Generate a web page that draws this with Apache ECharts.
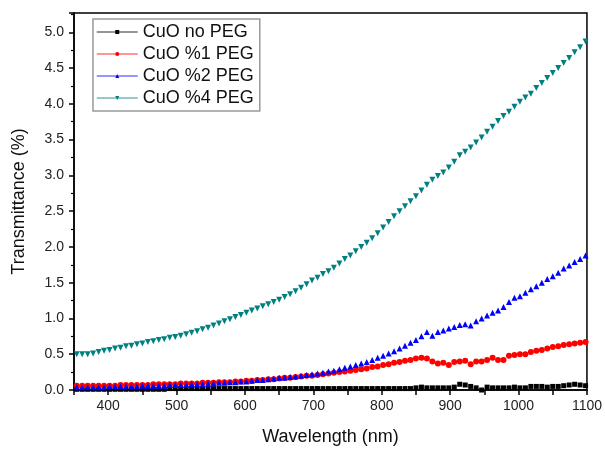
<!DOCTYPE html>
<html>
<head>
<meta charset="utf-8">
<script src="https://cdn.jsdelivr.net/npm/echarts@6/dist/echarts.min.js"></script>
<style>
  html, body { margin: 0; padding: 0; background: #fff; }
  #chart { width: 605px; height: 453px; }
</style>
</head>
<body>
<div id="chart"></div>
<script>
// wavelength (nm)
const wavelengths = [
  354, 362, 370, 378, 386, 394, 402, 410, 418, 426,
  434, 442, 450, 458, 466, 474, 482, 490, 498, 506,
  514, 522, 530, 538, 546, 554, 562, 570, 578, 586,
  594, 602, 610, 618, 626, 634, 642, 650, 658, 666,
  674, 682, 690, 698, 706, 714, 722, 730, 738, 746,
  754, 762, 770, 778, 786, 794, 802, 810, 818, 826,
  834, 842, 850, 858, 866, 874, 882, 890, 898, 906,
  914, 922, 930, 938, 946, 954, 962, 970, 978, 986,
  994, 1002, 1010, 1018, 1026, 1034, 1042, 1050, 1058, 1066,
  1074, 1082, 1090, 1098
]

const noPeg = [
  0.01, 0.01, 0.01, 0.01, 0.01, 0.01, 0.01, 0.01, 0.01, 0.01,
  0.01, 0.01, 0.01, 0.01, 0.01, 0.01, 0.01, 0.02, 0.02, 0.02,
  0.02, 0.02, 0.02, 0.02, 0.02, 0.02, 0.02, 0.02, 0.02, 0.02,
  0.02, 0.02, 0.02, 0.02, 0.02, 0.02, 0.02, 0.02, 0.02, 0.02,
  0.02, 0.02, 0.02, 0.02, 0.02, 0.02, 0.02, 0.02, 0.02, 0.02,
  0.02, 0.02, 0.02, 0.02, 0.02, 0.02, 0.02, 0.02, 0.02, 0.02,
  0.02, 0.02, 0.03, 0.04, 0.03, 0.03, 0.03, 0.03, 0.03, 0.04,
  0.08, 0.07, 0.05, 0.03, 0.00, 0.04, 0.03, 0.03, 0.03, 0.03,
  0.04, 0.03, 0.03, 0.05, 0.05, 0.05, 0.04, 0.05, 0.05, 0.06,
  0.07, 0.08, 0.07, 0.06
]

const peg1 = [
  0.06, 0.06, 0.06, 0.06, 0.06, 0.06, 0.06, 0.06, 0.07, 0.07,
  0.07, 0.07, 0.07, 0.07, 0.08, 0.08, 0.08, 0.08, 0.08, 0.09,
  0.09, 0.09, 0.09, 0.10, 0.10, 0.10, 0.11, 0.11, 0.11, 0.12,
  0.12, 0.13, 0.13, 0.14, 0.14, 0.15, 0.15, 0.16, 0.17, 0.17,
  0.18, 0.19, 0.20, 0.20, 0.21, 0.22, 0.23, 0.24, 0.25, 0.26,
  0.27, 0.28, 0.29, 0.30, 0.32, 0.33, 0.35, 0.36, 0.38, 0.39,
  0.41, 0.42, 0.44, 0.45, 0.44, 0.40, 0.37, 0.38, 0.35, 0.39,
  0.40, 0.41, 0.36, 0.40, 0.40, 0.42, 0.45, 0.42, 0.42, 0.48,
  0.49, 0.50, 0.50, 0.53, 0.55, 0.56, 0.58, 0.60, 0.61, 0.63,
  0.64, 0.65, 0.66, 0.67
]

const peg2 = [
  0.04, 0.04, 0.04, 0.04, 0.04, 0.04, 0.05, 0.05, 0.05, 0.05,
  0.05, 0.05, 0.06, 0.06, 0.06, 0.06, 0.06, 0.07, 0.07, 0.07,
  0.07, 0.08, 0.08, 0.08, 0.09, 0.09, 0.10, 0.10, 0.11, 0.11,
  0.12, 0.12, 0.13, 0.14, 0.14, 0.15, 0.16, 0.17, 0.17, 0.18,
  0.19, 0.20, 0.21, 0.22, 0.23, 0.24, 0.26, 0.27, 0.29, 0.31,
  0.33, 0.35, 0.37, 0.39, 0.42, 0.45, 0.48, 0.51, 0.54, 0.58,
  0.62, 0.66, 0.70, 0.75, 0.81, 0.76, 0.81, 0.83, 0.86, 0.88,
  0.91, 0.92, 0.90, 0.96, 1.00, 1.04, 1.08, 1.11, 1.16, 1.23,
  1.29, 1.31, 1.36, 1.41, 1.45, 1.50, 1.55, 1.59, 1.64, 1.70,
  1.74, 1.79, 1.83, 1.88
]

const peg4 = [
  0.50, 0.50, 0.50, 0.51, 0.53, 0.55, 0.56, 0.58, 0.59, 0.61,
  0.62, 0.64, 0.65, 0.67, 0.68, 0.70, 0.71, 0.73, 0.74, 0.76,
  0.78, 0.80, 0.82, 0.85, 0.87, 0.90, 0.93, 0.96, 0.99, 1.02,
  1.05, 1.08, 1.11, 1.14, 1.17, 1.20, 1.23, 1.26, 1.30, 1.34,
  1.38, 1.43, 1.48, 1.53, 1.57, 1.62, 1.66, 1.71, 1.77, 1.83,
  1.88, 1.94, 2.00, 2.06, 2.12, 2.19, 2.27, 2.35, 2.43, 2.50,
  2.57, 2.64, 2.71, 2.79, 2.87, 2.94, 2.99, 3.04, 3.11, 3.19,
  3.28, 3.33, 3.39, 3.46, 3.53, 3.61, 3.68, 3.76, 3.83, 3.89,
  3.96, 4.03, 4.09, 4.14, 4.22, 4.29, 4.36, 4.43, 4.50, 4.57,
  4.64, 4.72, 4.79, 4.87
]

const seriesNames = ['CuO no PEG', 'CuO %1 PEG', 'CuO %2 PEG', 'CuO %4 PEG']
const seriesColors = ['#000000', '#ff0000', '#0000ff', '#008080']
const seriesSymbols = ['rect', 'circle', 'triangle', 'triangle']
const seriesRotate = [0, 0, 0, 180]
const seriesValues = [noPeg, peg1, peg2, peg4]

const font = 'Arial, "Liberation Sans", sans-serif'

const chart = echarts.init(document.getElementById('chart'))

const options = {
  animation: false,
  grid: {
    left: 74,
    right: 18,
    top: 13,
    bottom: 63,
    show: true,
    borderColor: '#000',
    borderWidth: 1.5,
  },
  legend: {
    left: 93,
    top: 19,
    orient: 'vertical',
    itemWidth: 41,
    itemHeight: 5,
    itemGap: 4,
    padding: [4, 6, 4, 3],
    borderColor: '#999',
    borderWidth: 1.5,
    textStyle: { fontFamily: font, fontSize: 18, color: '#111' },
    lineStyle: { width: 1.5, opacity: 0.55 },
    symbolRotate: 'inherit',
  },
  xAxis: {
    type: 'value',
    min: 350,
    max: 1100,
    interval: 50,
    name: 'Wavelength (nm)',
    nameLocation: 'middle',
    nameGap: 38,
    nameTextStyle: { fontFamily: font, fontSize: 18, color: '#111' },
    axisLine: { lineStyle: { color: '#000', width: 1.5 } },
    axisTick: { length: 5, lineStyle: { color: '#000', width: 1.5 } },
    axisLabel: {
      margin: 9,
      fontFamily: font,
      fontSize: 14,
      color: '#222',
      formatter: (v) => (v % 100 === 0 ? String(v) : ''),
    },
    splitLine: { show: false },
  },
  yAxis: {
    type: 'value',
    min: 0,
    max: 5.27,
    interval: 0.5,
    name: 'Transmittance (%)',
    nameLocation: 'middle',
    nameGap: 46,
    nameTextStyle: { fontFamily: font, fontSize: 18, color: '#111' },
    axisLine: { show: true, lineStyle: { color: '#000', width: 1.5 } },
    axisTick: { length: 5, lineStyle: { color: '#000', width: 1.5 } },
    minorTick: { show: true, splitNumber: 2, length: 3, lineStyle: { color: '#000', width: 1.2 } },
    axisLabel: {
      margin: 10,
      fontFamily: font,
      fontSize: 14,
      color: '#222',
      showMaxLabel: false,
      formatter: (v) => (Math.abs(v * 2 - Math.round(v * 2)) < 1e-6 ? v.toFixed(1) : ''),
    },
    splitLine: { show: false },
  },
  series: seriesNames.map((name, i) => ({
    name: name,
    type: 'line',
    data: wavelengths.map((w, j) => [w, seriesValues[i][j]]),
    symbol: seriesSymbols[i],
    symbolRotate: seriesRotate[i],
    symbolSize: i === 0 ? 5 : 6,
    showAllSymbol: true,
    color: seriesColors[i],
    itemStyle: { color: seriesColors[i] },
    lineStyle: { opacity: 0, width: 0 },
  })),
}

chart.setOption(options)
</script>
</body>
</html>
